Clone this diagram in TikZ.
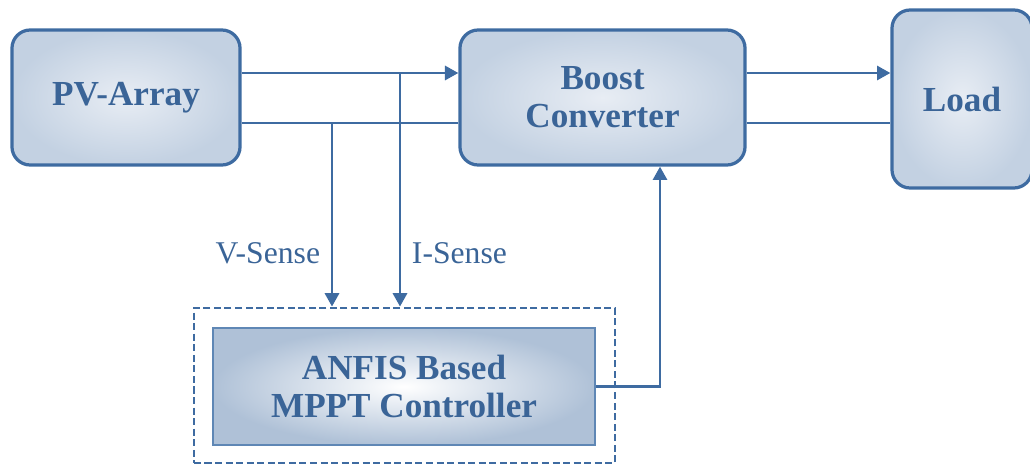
\documentclass[tikz,border=0pt]{standalone}
\usepackage{fontspec}
\setmainfont{Liberation Serif}
\usepackage{xcolor}
\usetikzlibrary{arrows.meta}

\definecolor{edge}{HTML}{3E6BA1}
\definecolor{ctrledge}{HTML}{5F87B5}
\definecolor{txt}{HTML}{3A6497}
\definecolor{boxin}{HTML}{E8EDF4}
\definecolor{boxout}{HTML}{C3D1E2}
\definecolor{ctrlout}{HTML}{AFC1D7}

\begin{document}
\begin{tikzpicture}[x=0.025cm,y=-0.025cm,
  block/.style={rectangle,rounded corners=13pt,draw=edge,line width=2.3pt,shading=radial,inner color=boxin,outer color=boxout,text=txt,align=center,font=\fontsize{25}{27}\selectfont\bfseries},
  ctrl/.style={rectangle,draw=ctrledge,line width=1.6pt,shading=radial,inner color=white,outer color=ctrlout,text=txt,align=center,font=\fontsize{25}{27}\selectfont\bfseries},
  wire/.style={draw=edge,line width=2pt},
  arr/.style={wire,-{Triangle[length=9.5pt,width=10pt]}},
  lbl/.style={text=txt,font=\fontsize{22.5}{24}\selectfont}]
  \useasboundingbox (0,0) rectangle (1030,466);
  \node[block,minimum width=5.7cm,minimum height=3.375cm] (pv) at (126,97.5) {PV-Array};
  \node[block,minimum width=7.125cm,minimum height=3.375cm] (boost) at (602.5,97.5) {Boost\\Converter};
  \node[block,minimum width=3.5cm,minimum height=4.45cm] (load) at (962,99) {Load};
  \node[draw=edge,line width=2pt,dash pattern=on 5pt off 2.5pt,minimum width=10.525cm,minimum height=3.875cm] (dash) at (404.5,385.5) {};
  \node[ctrl,minimum width=9.55cm,minimum height=2.925cm] (mppt) at (404,386.5) {ANFIS Based\\MPPT Controller};
  % power rails
  \coordinate (top) at (0,73);
  \coordinate (bot) at (0,123);
  \draw[arr] (pv.east |- top) -- (boost.west |- top);
  \draw[wire] (pv.east |- bot) -- (boost.west |- bot);
  \draw[arr] (boost.east |- top) -- (load.west |- top);
  \draw[wire] (boost.east |- bot) -- (load.west |- bot);
  % sensing
  \coordinate (vs) at (332,123);
  \coordinate (is) at (400,73);
  \draw[arr] (vs) -- (vs |- dash.north);
  \draw[arr] (is) -- (is |- dash.north);
  \node[lbl,anchor=east] (vlbl) at (325,253) {V-Sense};
  \node[lbl,anchor=west] (ilbl) at (407,253) {I-Sense};
  % duty feedback
  \coordinate (fb) at (660,0);
  \draw[arr] (mppt.east) -| (fb |- boost.south);
\end{tikzpicture}
\end{document}
